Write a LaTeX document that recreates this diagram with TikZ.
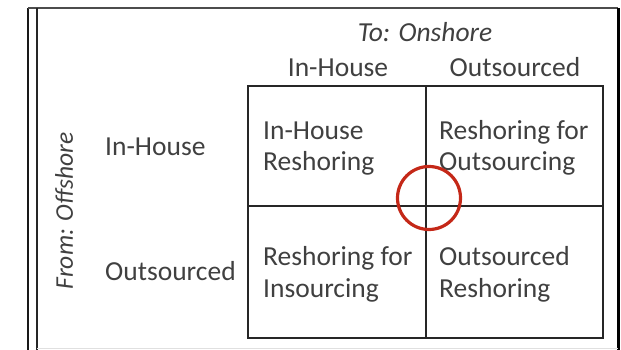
\documentclass[tikz,border=0pt]{standalone}
\usepackage{fontspec}
\setmainfont{Carlito}
\begin{document}
\begin{tikzpicture}[x=1pt,y=-1pt,
  txt/.style={text=black!75,font=\fontsize{27.5}{31.5}\selectfont,inner sep=0pt},
  celltxt/.style={txt,anchor=base west,align=left},
  hdr/.style={txt,anchor=base},
  gridline/.style={draw=black!85,line width=2pt},
  framel/.style={draw=black!90,line width=2pt}]
\useasboundingbox (0,0) rectangle (621,350);
% frame
\coordinate (fTL) at (28,8);
\coordinate (fTR) at (618,8);
\coordinate (fBL) at (28,350);
\coordinate (fBR) at (618,350);
\coordinate (iT) at (37,8);
\coordinate (iB) at (37,350);
\draw[framel] (fBL) -- (fTL);
\draw[draw=black!70,line width=1.8pt] (fTL) -- (fTR);
\draw[draw=black!85,line width=2.6pt] (iT) -- (iB);
\draw[draw=black,line width=3pt] (fTR) -- (fBR);
\draw[draw=black!12,line width=0.8pt] (37,348) -- (618,348);
% grid
\coordinate (g1) at (248,86);
\coordinate (g2) at (603,338);
\coordinate (mT) at (426,86);
\coordinate (mB) at (426,338);
\coordinate (hL) at (248,206);
\coordinate (hR) at (603,206);
\draw[gridline] (g1) rectangle (g2);
\draw[gridline] (mT) -- (mB);
\draw[gridline] (hL) -- (hR);
% headers
\node[hdr,font=\fontsize{27.5}{31.5}\selectfont\itshape] (to) at (425,42) {To: Onshore};
\node[hdr] (cIn) at (338,77) {In-House};
\node[hdr] (cOut) at (515,77) {Outsourced};
\node[celltxt] (rIn) at (105,155) {In-House};
\node[celltxt] (rOut) at (105,280) {Outsourced};
\node[txt,rotate=90,font=\fontsize{25.5}{30}\selectfont\itshape] (from) at (64,211) {From: Offshore};
% cells (base anchor = last line's baseline)
\node[celltxt] (c11) at (263,171) {In-House\\Reshoring};
\node[celltxt] (c12) at (439,171) {Reshoring for\\Outsourcing};
\node[celltxt] (c21) at (263,297) {Reshoring for\\Insourcing};
\node[celltxt] (c22) at (439,297) {Outsourced\\Reshoring};
% circle
\node[draw={rgb,255:red,196;green,40;blue,24},line width=3.2pt,circle,minimum size=63pt,inner sep=0pt] (circ) at (429,198) {};
\end{tikzpicture}
\end{document}
